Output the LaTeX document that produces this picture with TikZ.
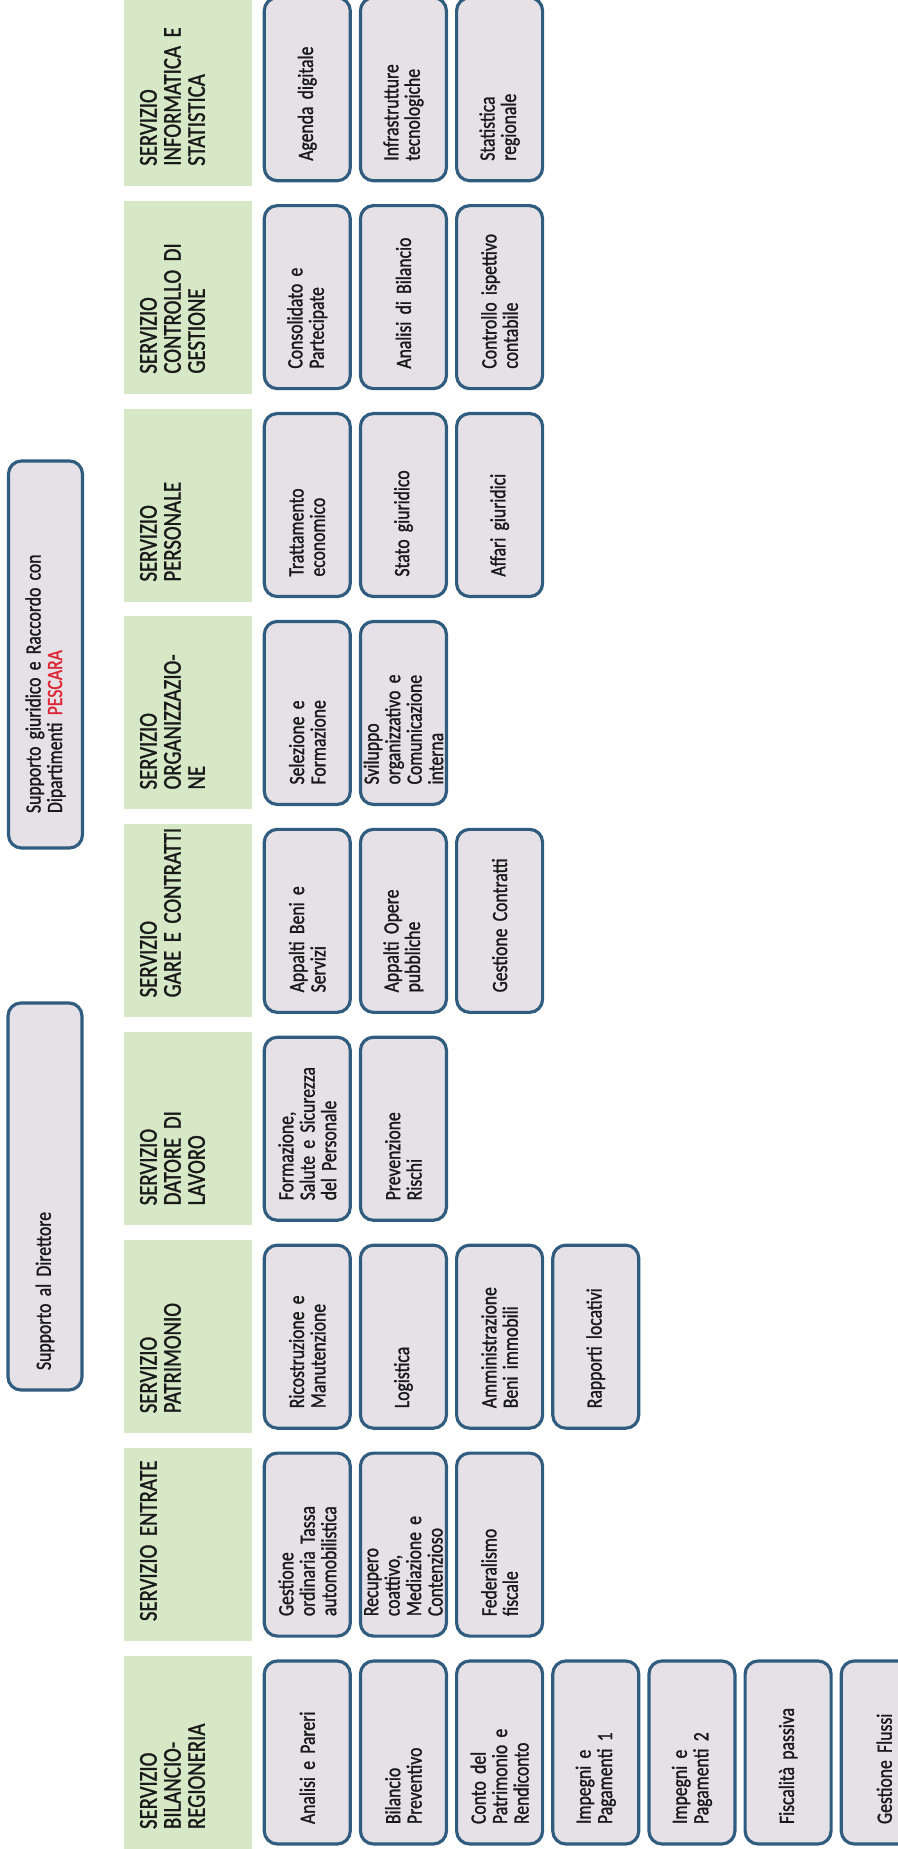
\documentclass[tikz,border=0pt]{standalone}
\usepackage{fontspec}
\setmainfont{Carlito}[FakeStretch=0.81, FakeBold=1.2, WordSpace=0.85]
\usetikzlibrary{positioning}
\definecolor{hdrgreen}{RGB}{214,232,198}
\definecolor{boxfill}{RGB}{229,225,231}
\definecolor{boxline}{RGB}{48,92,128}
\definecolor{pescred}{RGB}{222,38,52}
\newcommand{\boxfont}{\fontsize{6.2}{6.1}\selectfont}
\newcommand{\hdrfont}{\fontsize{7.3}{6.85}\selectfont}

\begin{document}
\begin{tikzpicture}[
		hdrnode/.style={rectangle, fill=hdrgreen, minimum width=19.3mm, minimum height=12.8mm, inner sep=0pt},
		hdrtext/.style={anchor=north west, inner sep=0pt, text width=17.3mm, align=left, font=\hdrfont, text=black!90, xshift=2mm, yshift=-1.6mm},
		subnode/.style={rectangle, rounded corners=1.3mm, draw=boxline, line width=0.9pt, fill=boxfill, text width=14.3mm, minimum height=8.6mm, inner xsep=2mm, inner ysep=0pt, align=left, font=\boxfont, text=black!90},
		supnode/.style={subnode, text width=34.7mm, minimum height=7.4mm},
	]
	\begin{scope}[rotate=90, transform shape, x=1mm, y=1mm]
		\useasboundingbox (0,0) rectangle (184.9,89.7);
		\node[supnode] (supdir) at (65.25,85.2) {Supporto al Direttore};
		\node[supnode, inner xsep=3.5mm, text width=31.7mm] (supgiu) at (119.45,85.15) {Supporto giuridico e Raccordo con\\Dipartimenti \textcolor{pescred}{PESCARA}};
		\node[hdrnode] (bilancio) at (9.65,70.9) {};
		\node[hdrnode, right=1.35mm of bilancio] (entrate) {};
		\node[hdrnode, right=1.35mm of entrate] (patrimonio) {};
		\node[hdrnode, right=1.35mm of patrimonio] (datore) {};
		\node[hdrnode, right=1.35mm of datore] (gare) {};
		\node[hdrnode, right=1.35mm of gare] (organizz) {};
		\node[hdrnode, right=1.35mm of organizz] (personale) {};
		\node[hdrnode, right=1.35mm of personale] (controllo) {};
		\node[hdrnode, right=1.35mm of controllo] (informatica) {};
		\node[hdrtext] (bilancioT) at (bilancio.north west) {SERVIZIO\\BILANCIO-\\REGIONERIA};
		\node[hdrtext] (entrateT) at (entrate.north west) {SERVIZIO ENTRATE};
		\node[hdrtext] (patrimonioT) at (patrimonio.north west) {SERVIZIO\\PATRIMONIO};
		\node[hdrtext] (datoreT) at (datore.north west) {SERVIZIO\\DATORE DI\\LAVORO};
		\node[hdrtext] (gareT) at (gare.north west) {SERVIZIO\\GARE E CONTRATTI};
		\node[hdrtext] (organizzT) at (organizz.north west) {SERVIZIO\\ORGANIZZAZIO-\\NE};
		\node[hdrtext] (personaleT) at (personale.north west) {SERVIZIO\\PERSONALE};
		\node[hdrtext] (controlloT) at (controllo.north west) {SERVIZIO\\CONTROLLO DI\\GESTIONE};
		\node[hdrtext] (informaticaT) at (informatica.north west) {SERVIZIO\\INFORMATICA E\\STATISTICA};
		\node[subnode, below=1mm of bilancio] (bil1) {Analisi e Pareri};
		\node[subnode, below=0.7mm of bil1] (bil2) {Bilancio\\Preventivo};
		\node[subnode, below=0.7mm of bil2] (bil3) {Conto del\\Patrimonio e\\Rendiconto};
		\node[subnode, below=0.7mm of bil3] (bil4) {Impegni e\\Pagamenti 1};
		\node[subnode, below=0.7mm of bil4] (bil5) {Impegni e\\Pagamenti 2};
		\node[subnode, below=0.7mm of bil5] (bil6) {Fiscalità passiva};
		\node[subnode, below=0.7mm of bil6] (bil7) {Gestione Flussi};
		\node[subnode, below=1mm of entrate] (ent1) {Gestione\\ordinaria Tassa\\automobilistica};
		\node[subnode, below=0.7mm of ent1] (ent2) {Recupero\\coattivo,\\Mediazione e\\Contenzioso};
		\node[subnode, below=0.7mm of ent2] (ent3) {Federalismo\\fiscale};
		\node[subnode, below=1mm of patrimonio] (pat1) {Ricostruzione e\\Manutenzione};
		\node[subnode, below=0.7mm of pat1] (pat2) {Logistica};
		\node[subnode, below=0.7mm of pat2] (pat3) {Amministrazione\\Beni immobili};
		\node[subnode, below=0.7mm of pat3] (pat4) {Rapporti locativi};
		\node[subnode, below=1mm of datore] (dat1) {Formazione,\\Salute e Sicurezza\\del Personale};
		\node[subnode, below=0.7mm of dat1] (dat2) {Prevenzione\\Rischi};
		\node[subnode, below=1mm of gare] (gar1) {Appalti Beni e\\Servizi};
		\node[subnode, below=0.7mm of gar1] (gar2) {Appalti Opere\\pubbliche};
		\node[subnode, below=0.7mm of gar2] (gar3) {Gestione Contratti};
		\node[subnode, below=1mm of organizz] (org1) {Selezione e\\Formazione};
		\node[subnode, below=0.7mm of org1] (org2) {Sviluppo\\organizzativo e\\Comunicazione\\interna};
		\node[subnode, below=1mm of personale] (per1) {Trattamento\\economico};
		\node[subnode, below=0.7mm of per1] (per2) {Stato giuridico};
		\node[subnode, below=0.7mm of per2] (per3) {Affari giuridici};
		\node[subnode, below=1mm of controllo] (con1) {Consolidato e\\Partecipate};
		\node[subnode, below=0.7mm of con1] (con2) {Analisi di Bilancio};
		\node[subnode, below=0.7mm of con2] (con3) {Controllo ispettivo\\contabile};
		\node[subnode, below=1mm of informatica] (inf1) {Agenda digitale};
		\node[subnode, below=0.7mm of inf1] (inf2) {Infrastrutture\\tecnologiche};
		\node[subnode, below=0.7mm of inf2] (inf3) {Statistica\\regionale};
	\end{scope}
\end{tikzpicture}
\end{document}
